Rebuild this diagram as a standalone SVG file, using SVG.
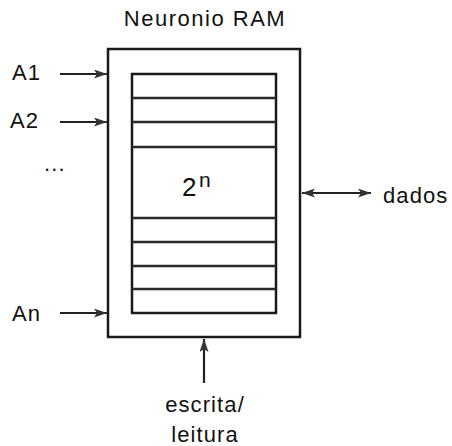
<svg xmlns="http://www.w3.org/2000/svg" width="452" height="446" viewBox="0 0 452 446">
<style>
text{font-family:"Liberation Sans",Arial,sans-serif;fill:#111;}
.lbl{font-size:22px;letter-spacing:1.1px;}
.box{fill:none;stroke:#1a1a1a;stroke-width:2.5;}
.row{stroke:#2a2a2a;stroke-width:2.5;}
.conn{stroke:#222;stroke-width:2.2;fill:none;}
</style>
<defs>
<marker id="ah" viewBox="0 0 13 9" refX="13" refY="4.5" markerWidth="13" markerHeight="9" markerUnits="userSpaceOnUse" orient="auto-start-reverse">
<path d="M0,0 L13,4.5 L0,9 L3,4.5 Z" fill="#333"/>
</marker>
</defs>
<text x="205" y="26" class="lbl" text-anchor="middle" font-size="23" style="letter-spacing:1.5px">Neuronio RAM</text>
<g id="ram">
<rect x="108" y="49" width="192" height="288" class="box"/>
<rect x="132" y="74" width="144" height="239" class="box"/>
<line x1="132" y1="98" x2="276" y2="98" class="row"/>
<line x1="132" y1="122" x2="276" y2="122" class="row"/>
<line x1="132" y1="147" x2="276" y2="147" class="row"/>
<line x1="132" y1="218" x2="276" y2="218" class="row"/>
<line x1="132" y1="242" x2="276" y2="242" class="row"/>
<line x1="132" y1="266" x2="276" y2="266" class="row"/>
<line x1="132" y1="289" x2="276" y2="289" class="row"/>
<text x="182" y="196" font-size="26">2</text>
<text x="199" y="187" font-size="21">n</text>
</g>
<g id="A1"><text x="12" y="80" class="lbl">A1</text></g>
<g id="A2"><text x="10" y="128" class="lbl">A2</text></g>
<g id="dots"><text x="44" y="171" class="lbl">...</text></g>
<g id="An"><text x="12" y="321" class="lbl">An</text></g>
<g id="dados"><text x="383" y="203" class="lbl">dados</text></g>
<g id="rw"><text x="205" y="412" class="lbl" text-anchor="middle">escrita/</text><text x="205" y="442" class="lbl" text-anchor="middle">leitura</text></g>
<g id="connectors">
<line x1="60" y1="74" x2="107" y2="74" class="conn" marker-end="url(#ah)"/>
<line x1="60" y1="122" x2="107" y2="122" class="conn" marker-end="url(#ah)"/>
<line x1="60" y1="313" x2="107" y2="313" class="conn" marker-end="url(#ah)"/>
<line x1="302" y1="193" x2="371" y2="193" class="conn" marker-start="url(#ah)" marker-end="url(#ah)"/>
<line x1="204" y1="383" x2="204" y2="339" class="conn" marker-end="url(#ah)"/>
</g>
</svg>
